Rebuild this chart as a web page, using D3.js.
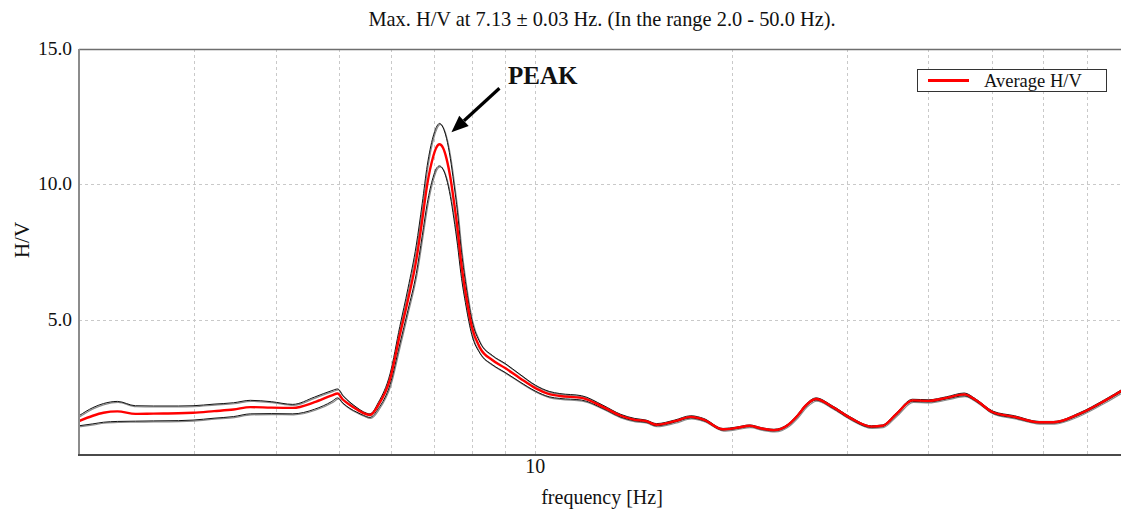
<!DOCTYPE html>
<html>
<head>
<meta charset="utf-8">
<script src="https://cdn.jsdelivr.net/npm/d3@7"></script>
<style>
  html, body { margin: 0; padding: 0; background: #fff; }
  svg { display: block; }
  text { font-family: "Liberation Serif", "Times New Roman", serif; fill: #111; }
</style>
</head>
<body>
<svg id="chart" width="1121" height="512"></svg>
<script>
// Frequency samples (Hz) of the H/V spectral ratio curve
const freq = [2.0, 2.1, 2.18, 2.29, 2.44, 2.6, 2.84, 2.99, 3.22, 3.45,
  3.66, 3.94, 4.25, 4.59, 4.88, 4.98, 5.07, 5.2, 5.33, 5.45,
  5.58, 5.75, 5.99, 6.2, 6.38, 6.57, 6.71, 6.83, 6.97, 7.05,
  7.13, 7.22, 7.31, 7.41, 7.5, 7.6, 7.69, 7.83, 7.99, 8.23,
  8.59, 8.99, 9.47, 10.0, 10.5, 10.9, 11.77, 12.69, 13.52, 14.2,
  14.78, 15.33, 16.34, 17.3, 18.1, 19.38, 20.3, 21.3, 22.2, 23.2,
  24.4, 25.2, 26.0, 26.9, 28.5, 30.3, 32.7, 34.0, 35.7, 37.8,
  40.0, 42.6, 45.4, 47.2, 50.2, 54.2, 59.1, 62.2, 68.0, 74.4,
  80.0];

// Average H/V
const hvMean = [1.25, 1.45, 1.56, 1.61, 1.52, 1.53, 1.54, 1.56, 1.62, 1.68,
  1.77, 1.75, 1.74, 1.95, 2.20, 2.27, 2.05, 1.85, 1.68, 1.55,
  1.48, 1.85, 2.80, 4.43, 5.73, 7.20, 8.68, 10.0, 11.0, 11.35,
  11.48, 11.35, 10.95, 10.25, 9.40, 8.35, 7.20, 5.90, 4.75, 3.95,
  3.51, 3.21, 2.84, 2.47, 2.25, 2.18, 2.11, 1.78, 1.45, 1.30,
  1.25, 1.12, 1.25, 1.41, 1.31, 0.95, 1.00, 1.08, 0.98, 0.92,
  1.12, 1.45, 1.85, 2.07, 1.78, 1.38, 1.05, 1.08, 1.51, 2.02,
  2.00, 2.11, 2.24, 2.04, 1.58, 1.41, 1.21, 1.21, 1.51, 2.00,
  2.45];

// Average H/V plus one standard deviation
const hvUpper = [1.45, 1.75, 1.90, 1.98, 1.82, 1.81, 1.81, 1.82, 1.88, 1.93,
  2.02, 1.97, 1.87, 2.14, 2.38, 2.44, 2.20, 1.95, 1.75, 1.60,
  1.52, 1.95, 3.00, 4.75, 6.15, 7.75, 9.30, 10.7, 11.75, 12.1,
  12.25, 12.1, 11.7, 10.95, 10.05, 8.95, 7.70, 6.25, 5.00, 4.15,
  3.68, 3.38, 2.98, 2.58, 2.35, 2.27, 2.19, 1.84, 1.50, 1.35,
  1.29, 1.16, 1.29, 1.45, 1.35, 0.98, 1.03, 1.11, 1.01, 0.95,
  1.15, 1.49, 1.89, 2.11, 1.82, 1.42, 1.08, 1.11, 1.55, 2.06,
  2.04, 2.15, 2.29, 2.08, 1.62, 1.45, 1.24, 1.24, 1.55, 2.04,
  2.49];

// Average H/V minus one standard deviation
const hvLower = [1.08, 1.15, 1.21, 1.24, 1.25, 1.26, 1.27, 1.29, 1.36, 1.42,
  1.52, 1.53, 1.52, 1.69, 1.98, 2.11, 1.92, 1.72, 1.58, 1.47,
  1.39, 1.72, 2.60, 4.10, 5.35, 6.70, 8.10, 9.30, 10.25, 10.58,
  10.68, 10.56, 10.2, 9.55, 8.75, 7.75, 6.70, 5.50, 4.45, 3.75,
  3.34, 3.05, 2.70, 2.36, 2.15, 2.09, 2.03, 1.72, 1.40, 1.26,
  1.21, 1.08, 1.21, 1.37, 1.27, 0.92, 0.97, 1.05, 0.95, 0.89,
  1.09, 1.41, 1.81, 2.03, 1.74, 1.34, 1.02, 1.05, 1.47, 1.98,
  1.96, 2.07, 2.19, 2.00, 1.54, 1.37, 1.18, 1.18, 1.47, 1.96,
  2.41];

// Axis ticks and grid
const yTicks = [5, 10, 15];
const yGrid = [5, 10];
const xTickLabels = [10];
const xGrid = [3, 4, 5, 6, 7, 8, 9, 10, 20, 30, 40, 50, 60, 70];

const titleText = "Max. H/V at 7.13 \u00b1 0.03 Hz. (In the range 2.0 - 50.0 Hz).";
const legendLabel = "Average H/V";
const peakLabel = "PEAK";
const peakFreq = 7.13;
const peakValue = 11.48;

const svg = d3.select("#chart");
const plot = { left: 79, right: 1125, top: 49, bottom: 455 };

const x = d3.scaleLog().domain([2, 80]).range([plot.left, plot.right]);
const y = d3.scaleLinear().domain([0, 15]).range([plot.bottom, plot.top]);

svg.append("defs").append("clipPath").attr("id", "plotClip")
  .append("rect")
  .attr("x", plot.left).attr("y", plot.top)
  .attr("width", plot.right - plot.left).attr("height", plot.bottom - plot.top);

// Dashed grid
const grid = svg.append("g").attr("stroke", "#c9c9c9").attr("stroke-dasharray", "3,3").attr("stroke-width", 1);
grid.selectAll("line.v").data(xGrid).join("line")
  .attr("class", "v")
  .attr("x1", d => Math.round(x(d)) + 0.5).attr("x2", d => Math.round(x(d)) + 0.5)
  .attr("y1", plot.top).attr("y2", plot.bottom);
grid.selectAll("line.h").data(yGrid).join("line")
  .attr("class", "h")
  .attr("x1", plot.left).attr("x2", plot.right)
  .attr("y1", d => Math.round(y(d)) + 0.5).attr("y2", d => Math.round(y(d)) + 0.5);

// Curves
const line = arr => d3.line()
  .x((d, i) => x(freq[i]))
  .y(d => y(d))
  .curve(d3.curveMonotoneX)(arr);

const curves = svg.append("g").attr("clip-path", "url(#plotClip)");
[hvUpper, hvLower].forEach(arr => {
  curves.append("path").attr("d", line(arr))
    .attr("fill", "none").attr("stroke", "#8a8a8a").attr("stroke-width", 1.2)
    .attr("transform", "translate(0.8,1)");
  curves.append("path").attr("d", line(arr))
    .attr("fill", "none").attr("stroke", "#111").attr("stroke-width", 1);
});
curves.append("path").attr("d", line(hvMean))
  .attr("fill", "none").attr("stroke", "#ff0000").attr("stroke-width", 2.4);

// Frame: top border, left and bottom axes
svg.append("line")
  .attr("x1", plot.left).attr("x2", 1121)
  .attr("y1", plot.top + 0.5).attr("y2", plot.top + 0.5)
  .attr("stroke", "#6e6e6e").attr("stroke-width", 1.3);
svg.append("line")
  .attr("x1", plot.left).attr("x2", plot.left)
  .attr("y1", plot.top).attr("y2", plot.bottom + 1)
  .attr("stroke", "#8c8c8c").attr("stroke-width", 2);
svg.append("line")
  .attr("x1", plot.left - 1).attr("x2", 1121)
  .attr("y1", plot.bottom).attr("y2", plot.bottom)
  .attr("stroke", "#4a4a4a").attr("stroke-width", 2);

// Y tick labels
svg.append("g").selectAll("text").data(yTicks).join("text")
  .attr("x", plot.left - 7)
  .attr("y", d => y(d) + 6)
  .attr("text-anchor", "end")
  .attr("font-size", 19.5)
  .text(d => d.toFixed(1));

// X tick labels
svg.append("g").selectAll("text").data(xTickLabels).join("text")
  .attr("x", d => x(d))
  .attr("y", 473)
  .attr("text-anchor", "middle")
  .attr("font-size", 20)
  .text(d => d);

// Axis titles
svg.append("text")
  .attr("x", (plot.left + plot.right) / 2)
  .attr("y", 504)
  .attr("text-anchor", "middle")
  .attr("font-size", 20)
  .text("frequency [Hz]");

svg.append("text")
  .attr("transform", "translate(29,240) rotate(-90)")
  .attr("text-anchor", "middle")
  .attr("font-size", 21)
  .text("H/V");

// Title
svg.append("text")
  .attr("x", (plot.left + plot.right) / 2)
  .attr("y", 26)
  .attr("text-anchor", "middle")
  .attr("font-size", 20.4)
  .text(titleText);

// Legend
const legend = svg.append("g");
legend.append("rect")
  .attr("x", 917.5).attr("y", 69.5).attr("width", 189).attr("height", 22)
  .attr("fill", "#fff").attr("stroke", "#333").attr("stroke-width", 1);
legend.append("line")
  .attr("x1", 928).attr("x2", 969).attr("y1", 80.5).attr("y2", 80.5)
  .attr("stroke", "#ff0000").attr("stroke-width", 3);
legend.append("text")
  .attr("x", 984).attr("y", 87)
  .attr("font-size", 18.5)
  .text(legendLabel);

// Peak annotation with arrow pointing at the maximum
const tipX = x(peakFreq) + 12;
const tipY = y(peakValue) - 12;
const tailX = tipX + 48;
const tailY = tipY - 44;
const ang = Math.atan2(tipY - tailY, tipX - tailX);
const headLen = 17, headHalf = 7;
const baseX = tipX - headLen * Math.cos(ang);
const baseY = tipY - headLen * Math.sin(ang);
svg.append("line")
  .attr("x1", tailX).attr("y1", tailY).attr("x2", baseX).attr("y2", baseY)
  .attr("stroke", "#000").attr("stroke-width", 3.2);
svg.append("path")
  .attr("d", d3.line()([
    [tipX, tipY],
    [baseX + headHalf * Math.sin(ang), baseY - headHalf * Math.cos(ang)],
    [baseX - headHalf * Math.sin(ang), baseY + headHalf * Math.cos(ang)]
  ]) + "Z")
  .attr("fill", "#000");
svg.append("text")
  .attr("x", 508).attr("y", 84)
  .attr("font-size", 25)
  .attr("font-weight", "bold")
  .text(peakLabel);
</script>
</body>
</html>
